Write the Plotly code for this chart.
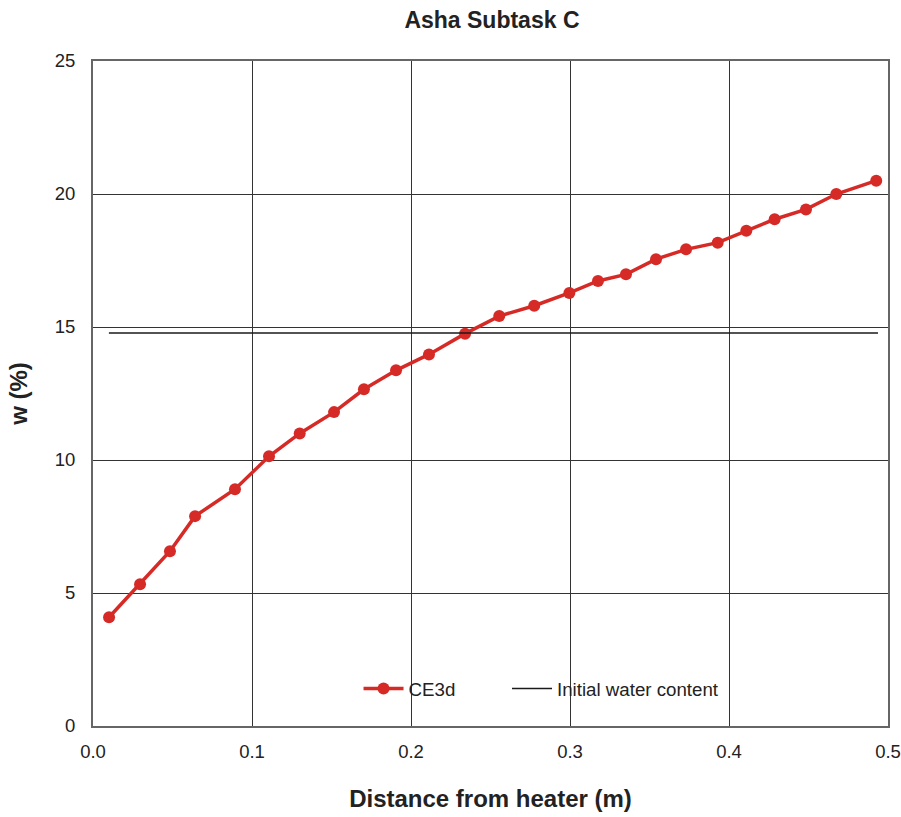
import plotly.graph_objects as go

x_ce3d = [0.0101, 0.0296, 0.0484, 0.0642, 0.0893, 0.1107, 0.130, 0.1516, 0.1704, 0.1906,
          0.2113, 0.234, 0.2555, 0.2775, 0.2996, 0.3176, 0.3352, 0.3541, 0.3730, 0.3929,
          0.4109, 0.4287, 0.4484, 0.4675, 0.4926]
w_ce3d = [4.09, 5.33, 6.57, 7.89, 8.90, 10.14, 11.0, 11.8, 12.66, 13.37,
          13.97, 14.75, 15.41, 15.80, 16.28, 16.73, 16.98, 17.55, 17.92, 18.17,
          18.62, 19.05, 19.42, 20.0, 20.50]
x_init = [0.010, 0.4937]
w_init = [14.77, 14.77]

x_ticks = [0.0, 0.1, 0.2, 0.3, 0.4, 0.5]
y_ticks = [0, 5, 10, 15, 20, 25]

red = "#d62a27"
fig = go.Figure()
fig.add_trace(go.Scatter(x=x_ce3d, y=w_ce3d, mode="lines+markers", name="CE3d" + "\u00a0" * 9,
                         line=dict(color=red, width=3.5),
                         marker=dict(color=red, size=12)))
fig.add_trace(go.Scatter(x=x_init, y=w_init, mode="lines", name="Initial water content",
                         line=dict(color="#1a1a1a", width=1.5)))

font = "Liberation Sans, Arial, sans-serif"
fig.update_layout(
    width=901, height=817,
    margin=dict(l=93, r=13, t=61, b=91, autoexpand=False),
    paper_bgcolor="white", plot_bgcolor="white",
    font=dict(family=font, size=18, color="#222222"),
    title=dict(text="<b>Asha Subtask C</b>", x=0.546, xanchor="center", y=0.975, yanchor="middle",
               font=dict(size=23, family=font, color="#222222")),
    xaxis=dict(range=[0, 0.5], tickvals=x_ticks, ticktext=[f"{v:.1f}" for v in x_ticks],
               tickfont=dict(size=18.5, family=font, color="#222222"),
               showgrid=True, gridcolor="#333333", gridwidth=1,
               showline=True, linecolor="#666666", linewidth=2, mirror=True,
               zeroline=False, ticks="", ticklabelstandoff=8, automargin=False,
               title=dict(text="<b>Distance from heater (m)</b>", font=dict(size=24, family=font, color="#222222"),
                          standoff=29)),
    yaxis=dict(range=[0, 25], tickvals=y_ticks, ticktext=[str(v) for v in y_ticks],
               tickfont=dict(size=18.5, family=font, color="#222222"),
               showgrid=True, gridcolor="#333333", gridwidth=1,
               showline=True, linecolor="#666666", linewidth=2, mirror=True,
               zeroline=False, ticks="", ticklabelstandoff=12, automargin=False,
               title=dict(text="<b>w (%)</b>", font=dict(size=24, family=font, color="#222222"), standoff=20)),
    legend=dict(orientation="h", x=0.334, xanchor="left", y=0.056, yanchor="middle",
                bgcolor="rgba(0,0,0,0)", font=dict(size=18.7, family=font, color="#222222"),
                itemwidth=40, tracegroupgap=0),
    showlegend=True,
)
fig.write_html("out.html")
